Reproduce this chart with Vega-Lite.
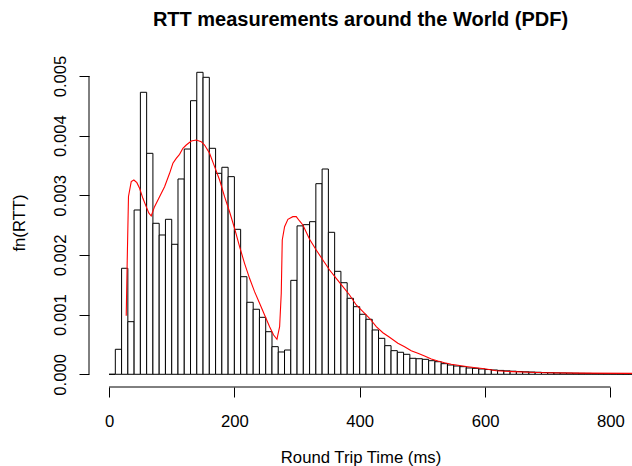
{
  "$schema": "https://vega.github.io/schema/vega-lite/v6.json",
  "width": 543,
  "height": 329,
  "autosize": {"type": "none"},
  "padding": {"left": 89, "top": 58, "right": 0, "bottom": 79},
  "title": {
    "text": "RTT measurements around the World (PDF)",
    "font": "Liberation Sans",
    "fontSize": 20,
    "fontWeight": "bold",
    "color": "black",
    "anchor": "middle",
    "baseline": "alphabetic",
    "offset": 9
  },
  "config": {
    "view": {"stroke": null},
    "axis": {
      "grid": false,
      "domain": false,
      "tickColor": "black",
      "tickSize": 10,
      "tickWidth": 1,
      "labelFont": "Liberation Sans",
      "labelFontSize": 16.7,
      "labelColor": "black",
      "titleFont": "Liberation Sans",
      "titleFontSize": 16.7,
      "titleFontWeight": "normal",
      "titleColor": "black"
    }
  },
  "datasets": {
    "bins": [
      {"lo": 0, "hi": 10, "d": 0},
      {"lo": 10, "hi": 20, "d": 0.000419},
      {"lo": 20, "hi": 30, "d": 0.001777},
      {"lo": 30, "hi": 40, "d": 0.000882},
      {"lo": 40, "hi": 50, "d": 0.002754},
      {"lo": 50, "hi": 60, "d": 0.004727},
      {"lo": 60, "hi": 70, "d": 0.003704},
      {"lo": 70, "hi": 80, "d": 0.002531},
      {"lo": 80, "hi": 90, "d": 0.002335},
      {"lo": 90, "hi": 100, "d": 0.002598},
      {"lo": 100, "hi": 110, "d": 0.002179},
      {"lo": 110, "hi": 120, "d": 0.003274},
      {"lo": 120, "hi": 130, "d": 0.003776},
      {"lo": 130, "hi": 140, "d": 0.004586},
      {"lo": 140, "hi": 150, "d": 0.005062},
      {"lo": 150, "hi": 160, "d": 0.004978},
      {"lo": 160, "hi": 170, "d": 0.003788},
      {"lo": 170, "hi": 180, "d": 0.003369},
      {"lo": 180, "hi": 190, "d": 0.00347},
      {"lo": 190, "hi": 200, "d": 0.003313},
      {"lo": 200, "hi": 210, "d": 0.00243},
      {"lo": 210, "hi": 220, "d": 0.001636},
      {"lo": 220, "hi": 230, "d": 0.001207},
      {"lo": 230, "hi": 240, "d": 0.00109},
      {"lo": 240, "hi": 250, "d": 0.000955},
      {"lo": 250, "hi": 260, "d": 0.000714},
      {"lo": 260, "hi": 270, "d": 0.000463},
      {"lo": 270, "hi": 280, "d": 0.000374},
      {"lo": 280, "hi": 290, "d": 0.000407},
      {"lo": 290, "hi": 300, "d": 0.001575},
      {"lo": 300, "hi": 310, "d": 0.002488},
      {"lo": 310, "hi": 320, "d": 0.002508},
      {"lo": 320, "hi": 330, "d": 0.002558},
      {"lo": 330, "hi": 340, "d": 0.003195},
      {"lo": 340, "hi": 350, "d": 0.003441},
      {"lo": 350, "hi": 360, "d": 0.00238},
      {"lo": 360, "hi": 370, "d": 0.001726},
      {"lo": 370, "hi": 380, "d": 0.001535},
      {"lo": 380, "hi": 390, "d": 0.001274},
      {"lo": 390, "hi": 400, "d": 0.001133},
      {"lo": 400, "hi": 410, "d": 0.001006},
      {"lo": 410, "hi": 420, "d": 0.000922},
      {"lo": 420, "hi": 430, "d": 0.000743},
      {"lo": 430, "hi": 440, "d": 0.000603},
      {"lo": 440, "hi": 450, "d": 0.00048},
      {"lo": 450, "hi": 460, "d": 0.000396},
      {"lo": 460, "hi": 470, "d": 0.000369},
      {"lo": 470, "hi": 480, "d": 0.000335},
      {"lo": 480, "hi": 490, "d": 0.000268},
      {"lo": 490, "hi": 500, "d": 0.000261},
      {"lo": 500, "hi": 510, "d": 0.000251},
      {"lo": 510, "hi": 520, "d": 0.000228},
      {"lo": 520, "hi": 530, "d": 0.000211},
      {"lo": 530, "hi": 540, "d": 0.000178},
      {"lo": 540, "hi": 550, "d": 0.000156},
      {"lo": 550, "hi": 560, "d": 0.000139},
      {"lo": 560, "hi": 570, "d": 0.000128},
      {"lo": 570, "hi": 580, "d": 0.000106},
      {"lo": 580, "hi": 590, "d": 0.0001},
      {"lo": 590, "hi": 600, "d": 0.000089},
      {"lo": 600, "hi": 610, "d": 0.00008},
      {"lo": 610, "hi": 620, "d": 0.000072},
      {"lo": 620, "hi": 630, "d": 0.000065},
      {"lo": 630, "hi": 640, "d": 0.000058},
      {"lo": 640, "hi": 650, "d": 0.000052},
      {"lo": 650, "hi": 660, "d": 0.000047},
      {"lo": 660, "hi": 670, "d": 0.000042},
      {"lo": 670, "hi": 680, "d": 0.000038},
      {"lo": 680, "hi": 690, "d": 0.000034},
      {"lo": 690, "hi": 700, "d": 0.00003},
      {"lo": 700, "hi": 710, "d": 0.000027},
      {"lo": 710, "hi": 720, "d": 0.000024},
      {"lo": 720, "hi": 730, "d": 0.000022},
      {"lo": 730, "hi": 740, "d": 0.00002},
      {"lo": 740, "hi": 750, "d": 0.000018},
      {"lo": 750, "hi": 760, "d": 0.000016},
      {"lo": 760, "hi": 770, "d": 0.000015},
      {"lo": 770, "hi": 780, "d": 0.000013},
      {"lo": 780, "hi": 790, "d": 0.000012},
      {"lo": 790, "hi": 800, "d": 0.000011},
      {"lo": 800, "hi": 810, "d": 0.00001},
      {"lo": 810, "hi": 820, "d": 0.000009},
      {"lo": 820, "hi": 830, "d": 0.000008},
      {"lo": 830, "hi": 840, "d": 0.000008}
    ],
    "density": [
      {"x": 27.4, "y": 0.00098},
      {"x": 29, "y": 0.00191},
      {"x": 31, "y": 0.00298},
      {"x": 35.4, "y": 0.00323},
      {"x": 39.6, "y": 0.003257},
      {"x": 44.4, "y": 0.003212},
      {"x": 48.7, "y": 0.003118},
      {"x": 54, "y": 0.00295},
      {"x": 59.3, "y": 0.00281},
      {"x": 63.6, "y": 0.0027},
      {"x": 67.3, "y": 0.002653},
      {"x": 72.6, "y": 0.00281},
      {"x": 80.6, "y": 0.002977},
      {"x": 88.6, "y": 0.003144},
      {"x": 96.6, "y": 0.003369},
      {"x": 101.9, "y": 0.003537},
      {"x": 107.2, "y": 0.00362},
      {"x": 112.5, "y": 0.003687},
      {"x": 117.8, "y": 0.003788},
      {"x": 123.2, "y": 0.003843},
      {"x": 131.2, "y": 0.00391},
      {"x": 139.2, "y": 0.003927},
      {"x": 147.1, "y": 0.003899},
      {"x": 152.4, "y": 0.003843},
      {"x": 160.4, "y": 0.003704},
      {"x": 168.4, "y": 0.00348},
      {"x": 176.4, "y": 0.003257},
      {"x": 184.3, "y": 0.002977},
      {"x": 192.3, "y": 0.002725},
      {"x": 200.3, "y": 0.002447},
      {"x": 208.3, "y": 0.002139},
      {"x": 216.2, "y": 0.00186},
      {"x": 224.2, "y": 0.001609},
      {"x": 232.2, "y": 0.001385},
      {"x": 240.2, "y": 0.00119},
      {"x": 248.2, "y": 0.000994},
      {"x": 256.2, "y": 0.000798},
      {"x": 262.6, "y": 0.000659},
      {"x": 267.9, "y": 0.000587},
      {"x": 272.2, "y": 0.000798},
      {"x": 274.8, "y": 0.001358},
      {"x": 276.4, "y": 0.002251},
      {"x": 280.1, "y": 0.002474},
      {"x": 285.4, "y": 0.002598},
      {"x": 293.3, "y": 0.002642},
      {"x": 298.7, "y": 0.002642},
      {"x": 304, "y": 0.00257},
      {"x": 309.3, "y": 0.002503},
      {"x": 320, "y": 0.002263},
      {"x": 330.6, "y": 0.002083},
      {"x": 341.2, "y": 0.001916},
      {"x": 351.9, "y": 0.001748},
      {"x": 362.5, "y": 0.001609},
      {"x": 373.1, "y": 0.001468},
      {"x": 383.8, "y": 0.001329},
      {"x": 394.5, "y": 0.001162},
      {"x": 405.1, "y": 0.001049},
      {"x": 415.7, "y": 0.000939},
      {"x": 426.4, "y": 0.000798},
      {"x": 437, "y": 0.000697},
      {"x": 447.6, "y": 0.00062},
      {"x": 460.9, "y": 0.00052},
      {"x": 471.6, "y": 0.000463},
      {"x": 482.2, "y": 0.000396},
      {"x": 492.8, "y": 0.000352},
      {"x": 503.5, "y": 0.000307},
      {"x": 514.2, "y": 0.000256},
      {"x": 524.7, "y": 0.000223},
      {"x": 535.4, "y": 0.000194},
      {"x": 546.1, "y": 0.000168},
      {"x": 556.7, "y": 0.000151},
      {"x": 572.6, "y": 0.000127},
      {"x": 588.6, "y": 0.000106},
      {"x": 599.3, "y": 0.000094},
      {"x": 618, "y": 0.00006},
      {"x": 644.4, "y": 0.000044},
      {"x": 671, "y": 0.000034},
      {"x": 697.7, "y": 0.000027},
      {"x": 751, "y": 0.00002},
      {"x": 834, "y": 0.000015},
      {"x": 860, "y": 0.000013}
    ],
    "xaxisline": [{"s": 0, "e": 800}],
    "yaxisline": [{"s": 0, "e": 0.005}]
  },
  "layer": [
    {
      "data": {"name": "bins"},
      "mark": {"type": "rect", "fill": "white", "stroke": "black", "strokeWidth": 1, "clip": true},
      "encoding": {
        "x": {
          "field": "lo",
          "type": "quantitative",
          "scale": {"domain": [-32, 834.5], "nice": false, "zero": false},
          "axis": {
            "values": [0, 200, 400, 600, 800],
            "title": "Round Trip Time (ms)",
            "labelPadding": 16,
            "titlePadding": 20
          }
        },
        "x2": {"field": "hi"},
        "y": {
          "field": "d",
          "type": "quantitative",
          "scale": {"domain": [-0.000213, 0.0053017], "nice": false, "zero": false},
          "axis": {
            "values": [0, 0.001, 0.002, 0.003, 0.004, 0.005],
            "format": ".3f",
            "labelAngle": 270,
            "labelAlign": "center",
            "labelBaseline": "alphabetic",
            "labelPadding": 14,
            "title": "fn(RTT)",
            "titlePadding": 24
          }
        },
        "y2": {"datum": 0}
      }
    },
    {
      "data": {"name": "density"},
      "mark": {"type": "line", "color": "#ff0000", "strokeWidth": 1.1, "clip": true},
      "encoding": {
        "x": {"field": "x", "type": "quantitative"},
        "y": {"field": "y", "type": "quantitative"}
      }
    },
    {
      "data": {"name": "xaxisline"},
      "mark": {"type": "rule", "color": "black", "strokeWidth": 1},
      "encoding": {
        "x": {"field": "s", "type": "quantitative"},
        "x2": {"field": "e"},
        "y": {"value": "height"}
      }
    },
    {
      "data": {"name": "yaxisline"},
      "mark": {"type": "rule", "color": "black", "strokeWidth": 1},
      "encoding": {
        "y": {"field": "s", "type": "quantitative"},
        "y2": {"field": "e"},
        "x": {"value": 0}
      }
    }
  ]
}
